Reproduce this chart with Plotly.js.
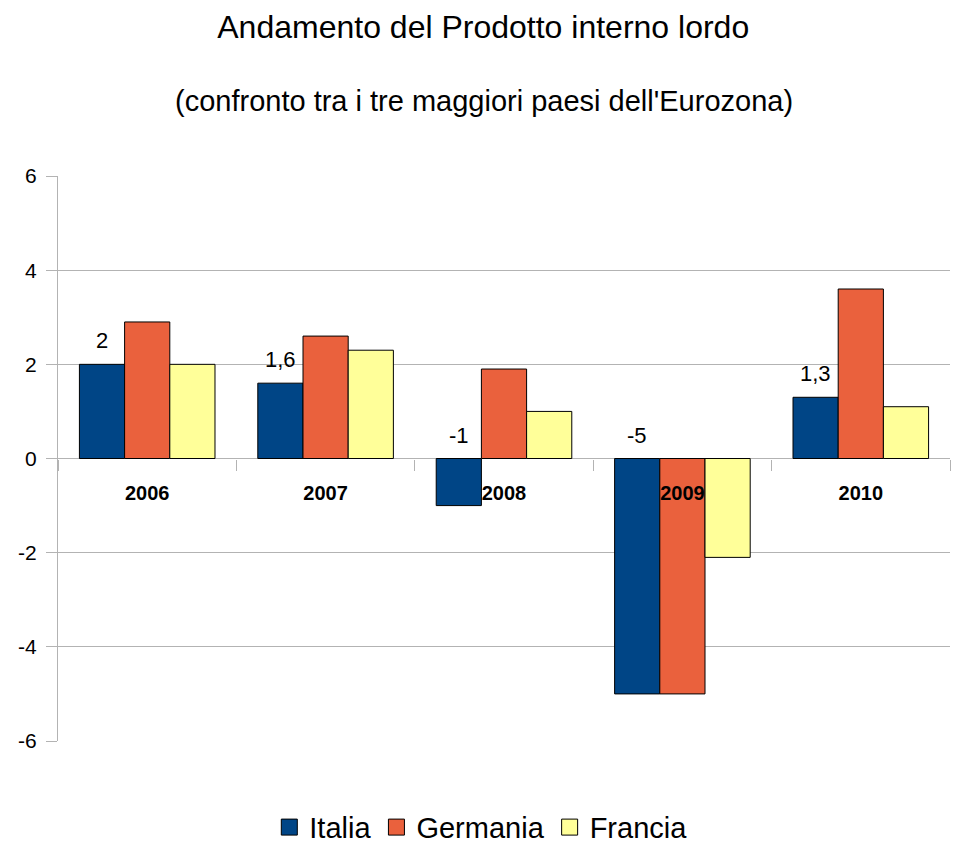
<!DOCTYPE html>
<html>
<head>
<meta charset="utf-8">
<script src="https://cdn.plot.ly/plotly-3.0.1.min.js"></script>
<style>html,body{margin:0;padding:0;background:#fff;}#chart{width:955px;height:845px;}</style>
</head>
<body>
<div id="chart"></div>
<script>
const years = ["2006", "2007", "2008", "2009", "2010"];
const italia = [2, 1.6, -1, -5, 1.3];
const germania = [2.9, 2.6, 1.9, -5, 3.6];
const francia = [2.0, 2.3, 1.0, -2.1, 1.1];
const seriesNames = ["Italia", "Germania", "Francia"];
const seriesColors = ["#004586", "#ea613d", "#ffff99"];
const yTicks = [-6, -4, -2, 0, 2, 4, 6];

const font = "Liberation Sans, Arial, sans-serif";
const allSeries = [italia, germania, francia];
const bars = allSeries.map((vals, i) => ({
  type: "bar",
  name: seriesNames[i],
  x: years,
  y: vals,
  showlegend: false,
  marker: {color: seriesColors[i], line: {color: "#000000", width: 1}},
  hoverinfo: "x+y"
}));
// legend-only entries with larger square swatches
const legendEntries = seriesNames.map((n, i) => ({
  type: "scatter", mode: "markers", name: n,
  x: [null], y: [null],
  marker: {symbol: "square", size: 20, color: seriesColors[i], line: {color: "#000", width: 1}},
  hoverinfo: "skip"
}));

const labels = italia.map((v, i) => ({
  x: i, y: Math.max(v, 0), xref: "x", yref: "y",
  text: String(v).replace(".", ","),
  showarrow: false, yanchor: "bottom", yshift: 9, xshift: -45.5,
  font: {family: font, size: 22, color: "#000"}
}));

const layout = {
  width: 955, height: 845,
  margin: {l: 58, r: 5, t: 176, b: 104, autoexpand: false},
  paper_bgcolor: "#fff", plot_bgcolor: "#fff",
  font: {family: font, color: "#000"},
  separators: ",.",
  title: {text: "Andamento del Prodotto interno lordo", x: 0.506, xanchor: "center", y: 0.968, yanchor: "middle", yref: "container",
          font: {family: font, size: 32, color: "#000"}},
  barmode: "group",
  bargap: 0.24,
  bargroupgap: 0,
  showlegend: true,
  legend: {orientation: "h", x: 0.474, xanchor: "center", xref: "paper", y: 0.021, yanchor: "middle", yref: "container",
           font: {family: font, size: 29, color: "#000"}, itemwidth: 30, tracegroupgap: 0},
  xaxis: {
    type: "category", anchor: "free", position: 0.5,
    range: [-0.5, years.length - 0.5], autorange: false,
    showgrid: false, showline: false, zeroline: false,
    ticks: "outside", tickson: "boundaries", ticklen: 11, tickcolor: "#b3b3b3", tickwidth: 1,
    ticklabelstandoff: 20,
    tickfont: {family: font, size: 20, color: "#000", weight: "bold"},
    fixedrange: true
  },
  yaxis: {
    range: [-6, 6], autorange: false, tickvals: yTicks, ticktext: yTicks.map(String),
    showgrid: true, gridcolor: "#b3b3b3", gridwidth: 1,
    zeroline: true, zerolinecolor: "#b3b3b3", zerolinewidth: 1,
    showline: true, linecolor: "#b3b3b3", linewidth: 1,
    ticks: "outside", ticklen: 11, tickcolor: "#b3b3b3",
    ticklabelstandoff: 5,
    tickfont: {family: font, size: 21, color: "#000"},
    fixedrange: true
  },
  annotations: labels.concat([{
    text: "(confronto tra i tre maggiori paesi dell'Eurozona)",
    xref: "paper", yref: "paper", x: 0.4775, y: 1, yshift: 75, xanchor: "center", yanchor: "middle",
    showarrow: false, font: {family: font, size: 29, color: "#000"}
  }])
};

Plotly.newPlot("chart", bars.concat(legendEntries), layout, {displayModeBar: false, staticPlot: true});
</script>
</body>
</html>
